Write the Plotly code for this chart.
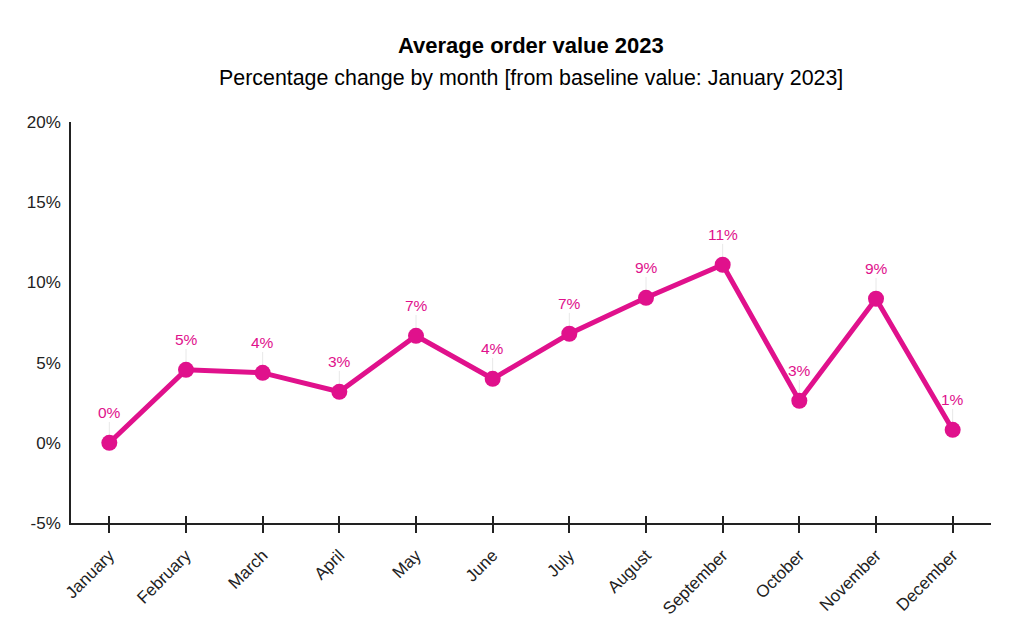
import plotly.graph_objects as go

months = ["January", "February", "March", "April", "May", "June", "July",
          "August", "September", "October", "November", "December"]
values = [0.0, 4.55, 4.36, 3.18, 6.67, 3.99, 6.8, 9.04, 11.1, 2.62, 8.98, 0.81]
labels = ["0%", "5%", "4%", "3%", "7%", "4%", "7%", "9%", "11%", "3%", "9%", "1%"]
ytickvals = [-5, 0, 5, 10, 15, 20]
yticktext = ["-5%", "0%", "5%", "10%", "15%", "20%"]

color = "#e0118c"
fig = go.Figure()
fig.add_trace(go.Scatter(
    x=months, y=values, mode="lines+markers",
    line=dict(color=color, width=5),
    marker=dict(color=color, size=16),
    error_y=dict(type="data", symmetric=False, array=[1.3] * len(values),
                 arrayminus=[0] * len(values), color="#e8e8e8", thickness=1, width=0),
    hoverinfo="skip",
))
fig.add_trace(go.Scatter(x=months, y=[None] * len(months), xaxis="x2", showlegend=False,
                         hoverinfo="skip"))
for m, v, t in zip(months, values, labels):
    fig.add_annotation(x=m, y=v, text=t, showarrow=False, yshift=30,
                       font=dict(color=color, size=15.5, family="Liberation Sans"))

# plot area on page: top 122, bottom 523 (height 401)
fig.add_annotation(x=0.5, y=(523 - 45) / 401, xref="paper", yref="paper",
                   text="<b>Average order value 2023</b>", showarrow=False,
                   font=dict(size=22, color="#000"), yanchor="middle")
fig.add_annotation(x=0.5, y=(523 - 78) / 401, xref="paper", yref="paper",
                   text="Percentage change by month [from baseline value: January 2023]",
                   showarrow=False, font=dict(size=21.4, color="#000"), yanchor="middle")

fig.update_layout(
    width=1024, height=635,
    margin=dict(l=63, r=41, t=114, b=120),
    paper_bgcolor="white", plot_bgcolor="white",
    showlegend=False,
    font=dict(family="Liberation Sans", color="#222", size=17),
    xaxis=dict(showline=True, linecolor="#222", linewidth=1.5, ticks="outside",
               ticklen=8, tickcolor="#222", tickwidth=1.5, tickangle=-45,
               showgrid=False, tickfont=dict(size=17), range=[-0.5, 11.5],
               automargin=False, ticklabelstandoff=6),
    xaxis2=dict(overlaying="x", matches="x", showline=False, ticks="inside",
                ticklen=7, tickcolor="#222", tickwidth=1.5, showticklabels=False,
                showgrid=False, side="bottom", automargin=False),
    yaxis=dict(showline=True, linecolor="#222", linewidth=1.5, range=[-5, 20],
               tickvals=ytickvals, ticktext=yticktext, showgrid=False, zeroline=False,
               ticks="", tickfont=dict(size=17), automargin=False, ticklabelstandoff=5),
)
fig.write_html("out.html")
